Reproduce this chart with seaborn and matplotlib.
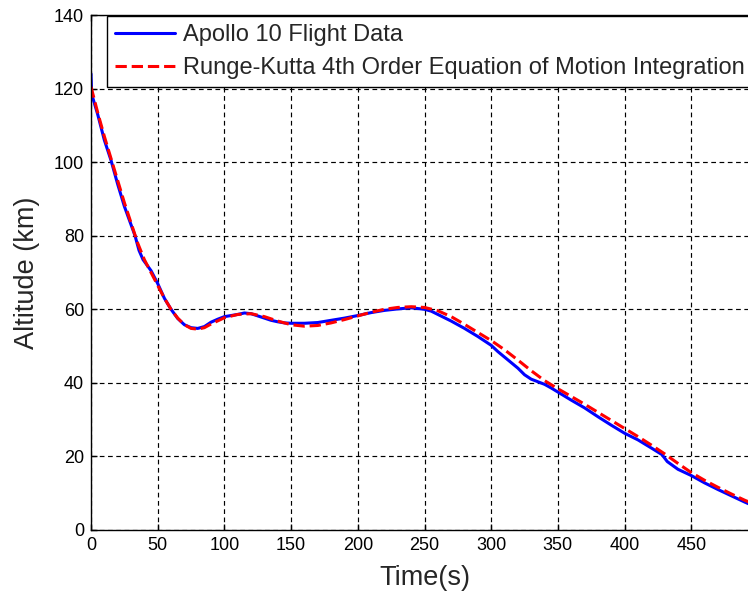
import matplotlib
matplotlib.use("Agg")
import matplotlib.pyplot as plt
import pandas as pd
import seaborn as sns

# Apollo 10 re-entry altitude record (time in s, altitude in km)
flight_time = [0, 0.5, 5, 10, 15, 20, 25, 30, 33, 36, 39, 42, 45, 50, 55, 60, 65,
               70, 75, 80, 85, 90, 95, 100, 105, 110, 115, 120, 125, 130, 135,
               140, 145, 150, 160, 170, 180, 190, 200, 210, 220, 230, 240, 250,
               255, 260, 270, 280, 290, 300, 305, 310, 315, 320, 325, 330, 335,
               340, 345, 350, 360, 370, 380, 390, 400, 410, 420, 428, 432, 440,
               450, 460, 470, 480, 490, 500]
flight_alt = [124, 118.5, 113, 106, 100.5, 94, 88, 83, 80, 76, 73.5, 72, 70.5,
              67, 63, 60, 57.5, 55.8, 55, 54.8, 55.3, 56.5, 57.3, 58, 58.3, 58.6,
              59, 58.8, 58.2, 57.6, 57, 56.6, 56.3, 56.2, 56.2, 56.4, 57, 57.6,
              58.3, 59.1, 59.7, 60.1, 60.4, 60, 59.5, 58.6, 56.8, 54.8, 52.6,
              50.2, 48.5, 47, 45.5, 44, 42.2, 41, 40.3, 39.6, 38.6, 37.5, 35.3,
              33.2, 30.8, 28.5, 26.3, 24.5, 22.3, 20.5, 18.6, 16.5, 14.8, 12.8,
              11, 9.3, 7.6, 6]

# RK4 integration of the equations of motion
rk4_time = [0, 5, 10, 15, 20, 25, 30, 35, 40, 45, 50, 55, 60, 65, 70, 75, 80,
            85, 90, 100, 110, 120, 130, 140, 150, 160, 170, 180, 190, 200, 210,
            220, 230, 240, 250, 260, 270, 280, 290, 300, 310, 320, 330, 340,
            350, 360, 370, 380, 390, 400, 410, 420, 430, 440, 450, 460, 470,
            480, 490, 500]
rk4_alt = [120.5, 113.5, 107, 101, 95, 89, 83.5, 78, 73.5, 70, 66.5, 63, 60,
           57.6, 55.8, 54.8, 54.6, 55, 56, 57.7, 58.6, 58.8, 58, 56.8, 55.8,
           55.4, 55.6, 56.3, 57.2, 58.2, 59.2, 60, 60.5, 60.7, 60.5, 59.6, 58,
           55.9, 53.7, 51.5, 49, 46.2, 43.3, 40.6, 38.4, 36.3, 34.2, 32, 29.8,
           27.6, 25.4, 23.1, 20.7, 18.1, 15.6, 13.5, 11.6, 9.8, 8.1, 6.6]

x_ticks = [0, 50, 100, 150, 200, 250, 300, 350, 400, 450]
y_ticks = [0, 20, 40, 60, 80, 100, 120, 140]

flight = pd.DataFrame({"t": flight_time, "alt": flight_alt})
rk4 = pd.DataFrame({"t": rk4_time, "alt": rk4_alt})

sns.set_style("ticks")
plt.rcParams["font.family"] = ["Liberation Sans", "DejaVu Sans"]

fig = plt.figure(figsize=(7.48, 5.99), dpi=100)
ax = fig.add_axes([91 / 748, 1 - 530 / 599, 667 / 748, 515 / 599])

sns.lineplot(data=flight, x="t", y="alt", ax=ax, color="#0000ff", lw=2.2,
             label="Apollo 10 Flight Data")
sns.lineplot(data=rk4, x="t", y="alt", ax=ax, color="#ff0000", lw=2.2,
             linestyle="--", label="Runge-Kutta 4th Order Equation of Motion Integration")

ax.set_xlim(0, 500)
ax.set_ylim(0, 140)
ax.set_xticks(x_ticks)
ax.set_yticks(y_ticks)
ax.set_axisbelow(True)
ax.grid(True, color="black", linestyle=(0, (4, 3)), linewidth=0.85)

for side in ["left", "right", "top", "bottom"]:
    ax.spines[side].set_visible(True)
    ax.spines[side].set_color("black")
    ax.spines[side].set_linewidth(1.0)

ax.tick_params(direction="in", length=4, width=1, top=True, right=True,
               labelsize=13, colors="black", pad=5)

ax.set_xlabel("Time(s)", fontsize=19.5, labelpad=8)
ax.set_ylabel("Altitude (km)", fontsize=19.5, labelpad=10)

leg = ax.legend(loc="upper left", bbox_to_anchor=(0.024, 0.998), borderaxespad=0,
                fontsize=17, frameon=True, fancybox=False, framealpha=1,
                edgecolor="black", handlelength=2.55, handletextpad=0.3,
                labelspacing=0.46, borderpad=0.35)
leg.get_frame().set_linewidth(1.0)

fig.savefig("out.png", dpi=100)
